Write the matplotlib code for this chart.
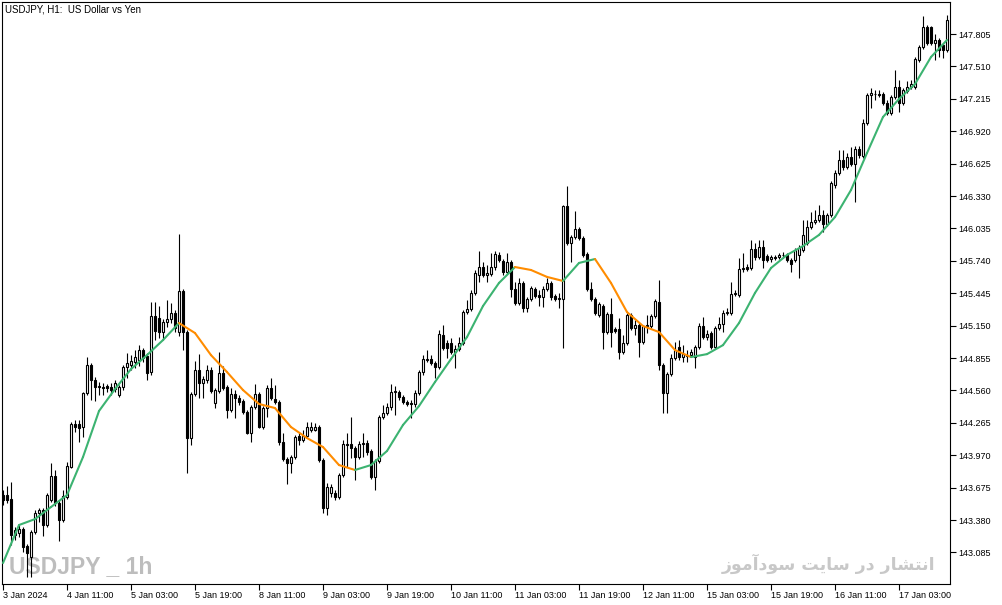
import numpy as np
import matplotlib
matplotlib.use("Agg")
import matplotlib.pyplot as plt
from matplotlib.collections import LineCollection

# USDJPY H1 candles (3 Jan 19:00 -> 17 Jan 15:00, 2024)
opens = [
    143.608, 143.608, 143.572, 143.243, 143.262, 143.298, 143.143, 143.043, 143.271, 143.444,
    143.471, 143.335, 143.563, 143.781, 143.535, 143.380, 143.590, 143.863, 144.255, 144.255,
    144.227, 144.537, 144.791, 144.655, 144.600, 144.591, 144.600, 144.591, 144.573, 144.519,
    144.591, 144.773, 144.791, 144.819, 144.837, 144.928, 144.873, 144.728, 145.238, 145.220,
    145.092, 145.183, 145.210, 145.265, 145.092, 145.466, 145.092, 144.127, 144.527, 144.746,
    144.628, 144.655, 144.746, 144.446, 144.555, 144.718, 144.591, 144.382, 144.527, 144.491,
    144.464, 144.364, 144.173, 144.409, 144.527, 144.227, 144.400, 144.582, 144.482, 144.455,
    144.091, 143.936, 143.900, 143.954, 144.145, 144.109, 144.145, 144.200, 144.200, 144.227,
    143.927, 143.490, 143.626, 143.626, 143.590, 143.791, 144.073, 144.073, 144.036, 143.954,
    144.073, 144.082, 144.009, 143.772, 143.918, 144.318, 144.355, 144.409, 144.546, 144.546,
    144.500, 144.455, 144.446, 144.437, 144.537, 144.728, 144.837, 144.846, 144.810, 144.773,
    145.065, 144.992, 144.992, 144.910, 144.937, 144.992, 145.274, 145.301, 145.448, 145.612,
    145.684, 145.612, 145.621, 145.684, 145.794, 145.739, 145.639, 145.730, 145.484, 145.356,
    145.539, 145.311, 145.393, 145.484, 145.430, 145.411, 145.484, 145.539, 145.420, 145.393,
    145.393, 146.239, 145.903, 145.957, 146.030, 145.948, 145.803, 145.484, 145.393, 145.247,
    145.329, 145.092, 145.256, 145.119, 145.119, 144.910, 144.992, 145.247, 145.128, 145.156,
    145.001, 145.146, 145.147, 145.238, 145.365, 144.791, 144.537, 144.710, 144.855, 144.955,
    144.864, 144.882, 144.882, 144.864, 144.955, 145.147, 145.046, 145.083, 144.955, 145.128,
    145.165, 145.265, 145.265, 145.439, 145.430, 145.666, 145.684, 145.675, 145.848, 145.775,
    145.866, 145.784, 145.757, 145.775, 145.775, 145.794, 145.794, 145.748, 145.748, 145.794,
    145.839, 145.903, 146.048, 146.094, 146.112, 146.158, 146.076, 146.158, 146.430, 146.540,
    146.658, 146.594, 146.685, 146.622, 146.758, 146.694, 146.995, 147.250, 147.259, 147.259,
    147.259, 147.177, 147.086, 147.232, 147.323, 147.177, 147.287, 147.323, 147.323, 147.569,
    147.687, 147.869, 147.869, 147.724, 147.751, 147.705, 147.660,
]
closes = [
    143.563, 143.563, 143.243, 143.289, 143.298, 143.134, 143.080, 143.271, 143.444, 143.471,
    143.335, 143.608, 143.781, 143.535, 143.380, 143.599, 143.872, 144.255, 144.227, 144.218,
    144.537, 144.791, 144.655, 144.591, 144.591, 144.582, 144.582, 144.564, 144.628, 144.591,
    144.773, 144.810, 144.828, 144.864, 144.928, 144.855, 144.718, 145.238, 145.101, 145.092,
    145.183, 145.210, 145.265, 145.128, 145.466, 145.092, 144.127, 144.527, 144.746, 144.628,
    144.664, 144.746, 144.555, 144.564, 144.718, 144.582, 144.382, 144.527, 144.491, 144.455,
    144.364, 144.173, 144.409, 144.527, 144.227, 144.400, 144.582, 144.491, 144.455, 144.091,
    143.936, 143.900, 143.954, 144.136, 144.109, 144.145, 144.227, 144.227, 144.227, 143.927,
    143.490, 143.681, 143.681, 143.590, 143.791, 144.073, 144.063, 144.036, 143.954, 144.073,
    144.082, 144.000, 143.772, 143.918, 144.318, 144.355, 144.409, 144.546, 144.555, 144.500,
    144.455, 144.437, 144.440, 144.537, 144.728, 144.846, 144.846, 144.810, 144.773, 145.074,
    144.946, 144.946, 144.910, 144.937, 144.992, 145.274, 145.301, 145.448, 145.630, 145.684,
    145.612, 145.630, 145.684, 145.803, 145.748, 145.639, 145.730, 145.484, 145.356, 145.539,
    145.311, 145.393, 145.493, 145.420, 145.411, 145.484, 145.539, 145.411, 145.393, 145.402,
    146.239, 145.903, 145.957, 146.030, 145.948, 145.794, 145.484, 145.393, 145.265, 145.347,
    145.092, 145.256, 145.092, 145.101, 144.910, 144.992, 145.247, 145.128, 145.156, 145.001,
    145.146, 145.156, 145.238, 145.374, 144.791, 144.537, 144.710, 144.855, 144.928, 144.864,
    144.891, 144.878, 144.910, 144.955, 145.147, 145.046, 145.074, 144.955, 145.128, 145.165,
    145.265, 145.274, 145.439, 145.448, 145.666, 145.675, 145.666, 145.848, 145.775, 145.866,
    145.748, 145.748, 145.775, 145.770, 145.794, 145.790, 145.748, 145.712, 145.839, 145.857,
    145.976, 146.048, 146.094, 146.112, 146.158, 146.076, 146.158, 146.449, 146.540, 146.658,
    146.594, 146.685, 146.622, 146.758, 146.704, 146.995, 147.250, 147.268, 147.255, 147.250,
    147.177, 147.086, 147.232, 147.323, 147.177, 147.296, 147.323, 147.350, 147.578, 147.687,
    147.869, 147.724, 147.724, 147.751, 147.660, 147.660, 147.933,
]
highs = [
    143.654, 143.690, 143.727, 143.316, 143.335, 143.316, 143.162, 143.289, 143.471, 143.490,
    143.490, 143.626, 143.900, 143.836, 143.563, 143.654, 143.909, 144.273, 144.291, 144.291,
    144.546, 144.864, 144.810, 144.682, 144.637, 144.628, 144.619, 144.628, 144.655, 144.610,
    144.791, 144.900, 144.882, 144.928, 144.973, 144.946, 144.900, 145.366, 145.366, 145.329,
    145.210, 145.384, 145.356, 145.292, 145.985, 145.484, 145.110, 144.546, 144.828, 144.891,
    144.691, 144.791, 144.773, 144.582, 144.910, 144.782, 144.610, 144.582, 144.564, 144.519,
    144.482, 144.382, 144.428, 144.619, 144.546, 144.418, 144.610, 144.673, 144.610, 144.473,
    144.173, 143.954, 143.972, 144.155, 144.173, 144.200, 144.273, 144.273, 144.264, 144.246,
    143.945, 143.718, 143.709, 143.654, 143.809, 144.109, 144.173, 144.318, 144.054, 144.100,
    144.173, 144.109, 144.027, 143.936, 144.337, 144.428, 144.446, 144.619, 144.600, 144.564,
    144.519, 144.473, 144.473, 144.564, 144.746, 144.882, 144.928, 144.882, 144.828, 145.110,
    145.156, 145.019, 145.037, 144.973, 145.046, 145.292, 145.384, 145.475, 145.657, 145.830,
    145.730, 145.703, 145.812, 145.830, 145.821, 145.757, 145.812, 145.748, 145.548, 145.585,
    145.557, 145.411, 145.511, 145.502, 145.475, 145.511, 145.585, 145.557, 145.439, 145.448,
    146.248, 146.421, 145.976, 146.194, 146.048, 145.966, 145.821, 145.548, 145.411, 145.366,
    145.347, 145.274, 145.402, 145.137, 145.220, 145.065, 145.265, 145.265, 145.201, 145.174,
    145.156, 145.247, 145.256, 145.393, 145.566, 144.810, 144.728, 144.891, 145.001, 145.019,
    144.973, 144.928, 144.937, 144.973, 145.174, 145.229, 145.110, 145.101, 145.147, 145.229,
    145.292, 145.311, 145.548, 145.475, 145.766, 145.812, 145.712, 145.930, 145.903, 145.930,
    145.930, 145.803, 145.794, 145.794, 145.812, 145.821, 145.812, 145.766, 145.857, 145.884,
    146.112, 146.112, 146.185, 146.203, 146.248, 146.203, 146.176, 146.467, 146.567, 146.749,
    146.749, 146.722, 146.776, 146.785, 146.785, 147.031, 147.268, 147.314, 147.296, 147.296,
    147.277, 147.205, 147.250, 147.478, 147.387, 147.314, 147.378, 147.387, 147.596, 147.705,
    147.969, 147.887, 147.878, 147.806, 147.769, 147.724, 147.978,
]
lows = [
    143.517, 143.535, 143.153, 143.198, 143.225, 143.089, 142.861, 142.861, 143.253, 143.362,
    143.234, 143.316, 143.545, 143.508, 143.189, 143.362, 143.572, 143.854, 144.182, 144.091,
    144.136, 144.519, 144.473, 144.464, 144.519, 144.519, 144.546, 144.519, 144.546, 144.500,
    144.564, 144.673, 144.746, 144.764, 144.782, 144.819, 144.655, 144.700, 145.019, 145.037,
    145.019, 145.137, 145.174, 145.092, 145.055, 144.928, 143.809, 144.063, 144.509, 144.491,
    144.491, 144.628, 144.537, 144.400, 144.537, 144.564, 144.309, 144.364, 144.309, 144.428,
    144.345, 144.164, 144.091, 144.391, 144.218, 144.209, 144.318, 144.473, 144.437, 144.063,
    143.918, 143.709, 143.809, 143.936, 144.063, 144.091, 144.127, 144.182, 144.191, 143.909,
    143.444, 143.426, 143.590, 143.563, 143.572, 143.772, 143.863, 143.945, 143.745, 143.936,
    143.954, 143.972, 143.754, 143.654, 143.900, 144.300, 144.337, 144.382, 144.337, 144.473,
    144.437, 144.418, 144.309, 144.409, 144.519, 144.700, 144.819, 144.791, 144.673, 144.755,
    144.928, 144.855, 144.891, 144.764, 144.919, 144.973, 145.256, 145.283, 145.430, 145.548,
    145.594, 145.548, 145.603, 145.657, 145.730, 145.612, 145.621, 145.411, 145.338, 145.338,
    145.274, 145.274, 145.374, 145.402, 145.329, 145.320, 145.466, 145.384, 145.374, 145.311,
    144.946, 145.884, 145.730, 145.939, 145.930, 145.775, 145.466, 145.374, 145.247, 145.229,
    144.937, 145.074, 144.955, 145.083, 144.846, 144.891, 144.973, 145.110, 145.065, 144.864,
    144.982, 145.083, 145.128, 145.220, 144.746, 144.355, 144.355, 144.691, 144.837, 144.837,
    144.819, 144.819, 144.864, 144.764, 144.937, 145.028, 145.019, 144.937, 144.937, 145.110,
    145.092, 145.247, 145.247, 145.420, 145.411, 145.639, 145.648, 145.657, 145.748, 145.757,
    145.675, 145.730, 145.730, 145.748, 145.757, 145.766, 145.730, 145.639, 145.730, 145.584,
    145.821, 145.884, 146.030, 146.076, 146.094, 146.003, 146.057, 146.139, 146.403, 146.522,
    146.567, 146.576, 146.603, 146.276, 146.676, 146.676, 146.977, 147.132, 147.205, 147.232,
    147.159, 147.068, 147.068, 147.214, 147.095, 147.159, 147.268, 147.305, 147.305, 147.551,
    147.669, 147.705, 147.705, 147.569, 147.596, 147.587, 147.642,
]

# moving average, read every 4th bar
ma_every = 4
ma_values = [
    142.989, 143.335, 143.389, 143.499, 143.608, 143.954, 144.373, 144.573, 144.755, 144.882,
    145.019, 145.174, 145.083, 144.882, 144.728, 144.564, 144.437, 144.400, 144.227, 144.127,
    144.045, 143.881, 143.836, 143.881, 144.009, 144.246, 144.418, 144.637, 144.846, 145.046,
    145.329, 145.539, 145.684, 145.657, 145.594, 145.557, 145.721, 145.757, 145.539, 145.274,
    145.147, 145.092, 144.928, 144.864, 144.891, 144.973, 145.174, 145.448, 145.675, 145.794,
    145.875, 145.976, 146.139, 146.385, 146.722, 147.050, 147.214, 147.350, 147.596, 147.751,
]

x_labels = ["3 Jan 2024", "4 Jan 11:00", "5 Jan 03:00", "5 Jan 19:00", "8 Jan 11:00",
            "9 Jan 03:00", "9 Jan 19:00", "10 Jan 11:00", "11 Jan 03:00", "11 Jan 19:00",
            "12 Jan 11:00", "15 Jan 03:00", "15 Jan 19:00", "16 Jan 11:00", "17 Jan 03:00"]
label_every = 16
y_ticks = [143.085, 143.380, 143.675, 143.970, 144.265, 144.560, 144.855, 145.150,
           145.445, 145.740, 146.035, 146.330, 146.625, 146.920, 147.215, 147.510, 147.805]

title = "USDJPY, H1:  US Dollar vs Yen"
mark_left = "USDJPY _ 1h"
# "انتشار در سایت سودآموز" in shaped, visual order
mark_right = "\ufeaf\ufeee\ufee3\ufe81\ufea9\ufeee\ufeb3 \ufe96\ufef3\ufe8e\ufeb3 \ufead\ufea9 \ufead\ufe8e\ufeb8\ufe98\ufee7\ufe8d"

W, H = 1003, 605
fig = plt.figure(figsize=(W / 100, H / 100), dpi=100)
ax = fig.add_axes([2 / W, 21 / H, 948 / W, 582 / H])

o = np.array(opens)
c = np.array(closes)
hi = np.array(highs)
lo = np.array(lows)
x = np.arange(len(o))
up = c >= o

# wicks then bodies
ax.vlines(x, lo, hi, color="black", linewidth=0.8, zorder=2)
body_lo = np.minimum(o, c)
body_h = np.maximum(np.abs(c - o), 0.002)
ax.bar(x[up], body_h[up], bottom=body_lo[up], width=0.55, color="white",
       edgecolor="black", linewidth=0.8, zorder=3)
ax.bar(x[~up], body_h[~up], bottom=body_lo[~up], width=0.55, color="black",
       edgecolor="black", linewidth=0.8, zorder=3)

# moving average, green when rising and orange when falling
ma = np.array(ma_values)
mx = np.arange(len(ma)) * ma_every
pts = np.column_stack([mx, ma])
segs = np.stack([pts[:-1], pts[1:]], axis=1)
cols = ["#3cb371" if b >= a else "#ff8c00" for a, b in zip(ma[:-1], ma[1:])]
ax.add_collection(LineCollection(segs, colors=cols, linewidths=1.5, zorder=4,
                                 capstyle="round", joinstyle="round"))

ax.set_xlim(-0.25, 236.75)
ax.set_ylim(142.798, 148.097)

for s in ax.spines.values():
    s.set_color("black")
    s.set_linewidth(0.8)

ax.yaxis.tick_right()
ax.set_yticks(y_ticks)
ax.set_yticklabels([f"{v:.3f}" for v in y_ticks])
ax.tick_params(axis="y", direction="out", length=4, width=0.8, pad=2,
               labelsize=6.5, labelfontfamily="Liberation Sans")
ax.set_xticks(np.arange(len(x_labels)) * label_every)
ax.set_xticklabels(x_labels, ha="left")
ax.tick_params(axis="x", direction="out", length=4, width=0.8, pad=1,
               labelsize=6.5, labelfontfamily="Liberation Sans")

fig.text(5 / W, 1 - 4 / H, title, ha="left", va="top", fontsize=7,
         family="Liberation Sans", color="black")

ax.text(7 / 948, 6 / 582, mark_left, transform=ax.transAxes, ha="left", va="bottom",
        fontsize=16.5, fontweight="bold", color="#bdbdbd",
        family="Liberation Sans", zorder=1)
ax.text(933 / 948, 10 / 582, mark_right, transform=ax.transAxes, ha="right", va="bottom",
        fontsize=12.5, fontweight="bold", color="#c8c8c8",
        family=["DejaVu Sans"], zorder=1)

fig.savefig("out.png", dpi=100, facecolor="white")
